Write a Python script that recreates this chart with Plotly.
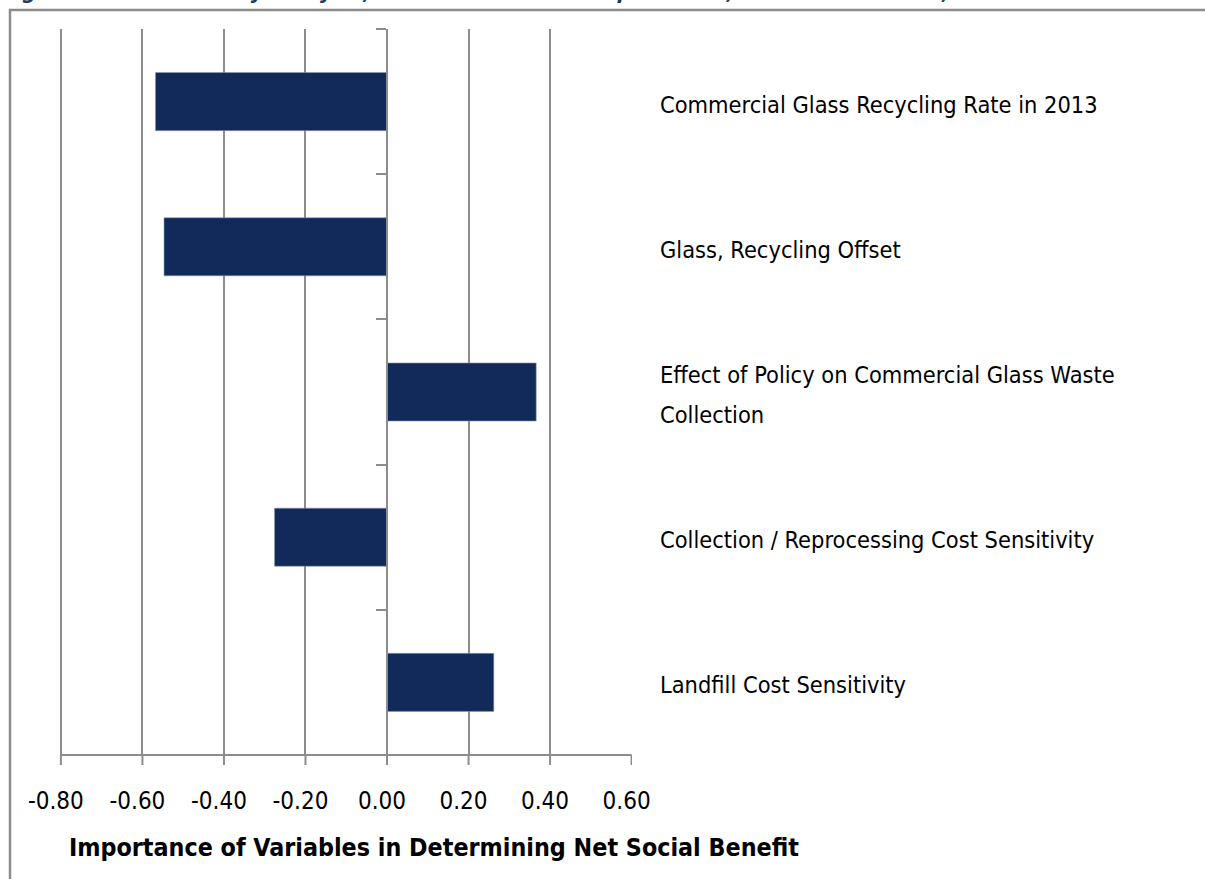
import plotly.graph_objects as go

# Sensitivity variables (top to bottom) and their importance scores
categories = [
    "Commercial Glass Recycling Rate in 2013",
    "Glass, Recycling Offset",
    "Effect of Policy on Commercial Glass Waste<br>Collection",
    "Collection / Reprocessing Cost Sensitivity",
    "Landfill Cost Sensitivity",
]
importance = [-0.568, -0.547, 0.366, -0.276, 0.262]

tick_values = [-0.8, -0.6, -0.4, -0.2, 0.0, 0.2, 0.4, 0.6]
tick_labels = ["-0.80", "-0.60", "-0.40", "-0.20", "0.00", "0.20", "0.40", "0.60"]

axis_title = "Importance of Variables in Determining Net Social Benefit"
caption = "Figure 3-16: Sensitivity Analysis, Commercial Glass Disposal Ban, Net Social Benefit, 2015"

FONT = "DejaVu Sans Condensed, DejaVu Sans, sans-serif"
GRID = "#8c8c8c"
NAVY = "#112a5a"

W, H = 1205, 879
L, R, T, B = 56, 632, 29, 755
X_MIN, X_MAX = -0.812, 0.601

fig = go.Figure(
    go.Bar(
        x=importance,
        y=categories,
        orientation="h",
        marker=dict(color=NAVY, line=dict(color="#8d9ab3", width=0.6)),
        hoverinfo="x+y",
    )
)

fig.update_layout(
    width=W,
    height=H,
    autosize=False,
    margin=dict(l=L, r=W - R, t=T, b=H - B, pad=0),
    paper_bgcolor="white",
    plot_bgcolor="white",
    bargap=0.6,
    showlegend=False,
    font=dict(family=FONT, size=24, color="black"),
)

fig.update_xaxes(
    range=[X_MIN, X_MAX],
    tickvals=tick_values,
    ticktext=tick_labels,
    showgrid=True,
    gridcolor=GRID,
    gridwidth=2,
    zeroline=False,
    showline=False,
    ticks="",
    showticklabels=True,
    ticklabelstandoff=29,
    ticklabelshift=-5,
    tickfont=dict(family=FONT, size=24, color="black"),
)

pw, ph = R - L, B - T
x0_frac = (-X_MIN) / (X_MAX - X_MIN)
right_frac = (0.6 - X_MIN) / (X_MAX - X_MIN)

# category axis drawn through zero, ticks at category boundaries
fig.update_yaxes(
    type="category",
    categoryorder="array",
    categoryarray=categories[::-1],
    anchor="free",
    position=x0_frac,
    showticklabels=False,
    showgrid=False,
    zeroline=False,
    showline=True,
    linecolor=GRID,
    linewidth=2,
    ticks="outside",
    ticklen=10,
    tickwidth=2,
    tickcolor=GRID,
    tickson="boundaries",
)

# horizontal value axis line spanning -0.80 .. 0.60 with downward ticks
fig.add_shape(
    type="line", xref="x", yref="paper",
    x0=tick_values[0], x1=tick_values[-1], y0=0, y1=0,
    line=dict(color=GRID, width=2),
)
for v in tick_values:
    fig.add_shape(
        type="line", xref="x", yref="paper",
        x0=v, x1=v, y0=0, y1=-10 / ph,
        line=dict(color=GRID, width=2),
    )

# category labels to the right of the plot, one annotation per text line
LINE_GAP = 40
for cat in categories:
    lines = cat.split("<br>")
    n = len(lines)
    for i, line in enumerate(lines):
        fig.add_annotation(
            x=right_frac, xref="paper", xshift=26,
            y=cat, yref="y",
            yshift=((n - 1) / 2 - i) * LINE_GAP - 3,
            text=line, showarrow=False,
            xanchor="left", yanchor="middle", align="left",
            font=dict(family=FONT, size=23.4, color="black"),
        )

fig.add_annotation(
    x=(67 - L) / pw, xref="paper",
    y=(B - 848) / ph, yref="paper",
    text="<b>" + axis_title + "</b>", showarrow=False,
    xanchor="left", yanchor="middle",
    font=dict(family=FONT, size=24.8, color="black"),
)

# document caption above the chart frame
fig.add_annotation(
    x=(0 - L) / pw, xref="paper",
    y=1 + (T - 6) / ph, yref="paper",
    text="<b><i>" + caption + "</i></b>", showarrow=False,
    xanchor="left", yanchor="bottom",
    font=dict(family=FONT, size=22, color="#1f3864"),
)

# frame around the chart
fig.add_shape(
    type="rect", xref="paper", yref="paper",
    x0=(10 - L) / pw, x1=(W + 20 - L) / pw,
    y0=(B - (H + 20)) / ph, y1=1 + (T - 10) / ph,
    line=dict(color="#8c8c8c", width=2.5),
    fillcolor="rgba(0,0,0,0)", layer="below",
)

fig.write_html("out.html")
